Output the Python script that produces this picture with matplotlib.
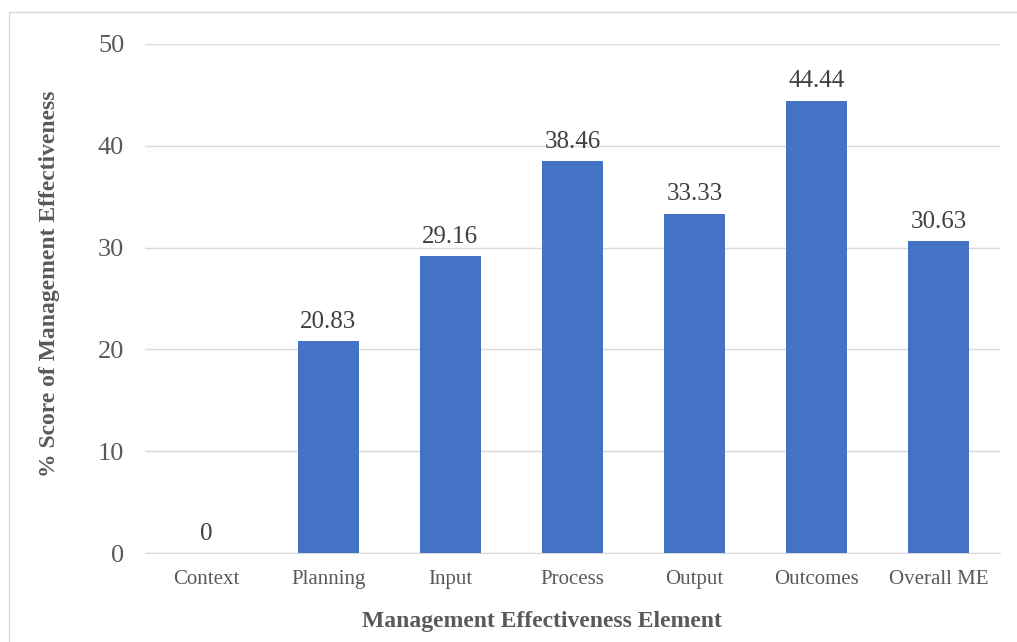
import matplotlib.pyplot as plt
from matplotlib.patches import Rectangle

# data
categories = ['Context', 'Planning', 'Input', 'Process', 'Output', 'Outcomes', 'Overall ME']
scores = [0, 20.83, 29.16, 38.46, 33.33, 44.44, 30.63]
labels = ['0', '20.83', '29.16', '38.46', '33.33', '44.44', '30.63']
yticks = [0, 10, 20, 30, 40, 50]

plt.rcParams['font.family'] = ['Liberation Serif', 'DejaVu Serif']
txt = '#595959'

fig = plt.figure(figsize=(10.17, 6.42), dpi=100)
ax = fig.add_axes([145 / 1017, 1 - 553 / 642, 855 / 1017, 509 / 642])

# light frame around the chart area
fig.patches.append(Rectangle((9 / 1017, -0.1), 1.1, 1 - 12 / 642 + 0.1,
                             transform=fig.transFigure, fill=False,
                             edgecolor='#D9D9D9', linewidth=1))

x = range(len(categories))
ax.bar(x, scores, width=0.5, color='#4472C4', zorder=3)
for i, (v, s) in enumerate(zip(scores, labels)):
    ax.annotate(s, (i, v), xytext=(0, 6), textcoords='offset points',
                ha='center', va='bottom', fontsize=18, color='#404040')

ax.set_xlim(-0.5, len(categories) - 0.5)
ax.set_ylim(0, 50)
ax.set_yticks(yticks)
ax.set_xticks(list(x))
ax.set_xticklabels(categories, fontsize=15)
ax.grid(axis='y', color='#D9D9D9', linewidth=1, zorder=0)
for sp in ['top', 'right', 'left']:
    ax.spines[sp].set_visible(False)
ax.spines['bottom'].set_color('#D9D9D9')
ax.tick_params(axis='both', length=0, colors=txt)
ax.tick_params(axis='y', labelsize=19, pad=15)
ax.tick_params(axis='x', labelsize=15, pad=12)

ax.set_xlabel('Management Effectiveness Element', fontsize=17, fontweight='bold',
              color=txt)
ax.set_ylabel('% Score of Management Effectiveness', fontsize=17, fontweight='bold',
              color=txt)
# titles sit a little off the plot centre in the original
ax.xaxis.set_label_coords(0.464, -0.114)
ax.yaxis.set_label_coords(-0.099, 0.529)

fig.savefig('out.png', dpi=100)
